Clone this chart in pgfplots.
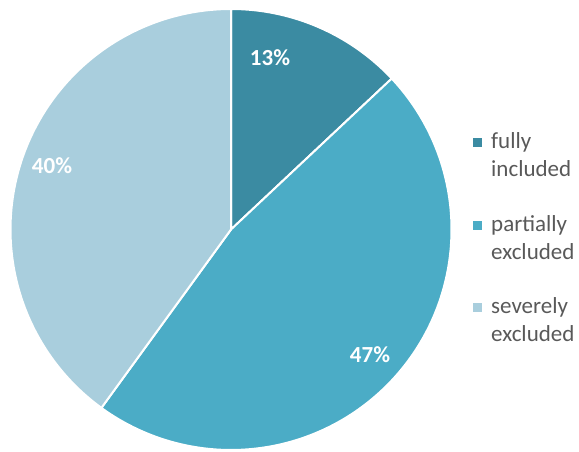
\documentclass[border=0pt]{standalone}
\usepackage{fontspec}
\setmainfont{Carlito}
\usepackage{pgfplots}
\pgfplotsset{compat=1.18}
\definecolor{cFull}{HTML}{3B8BA2}
\definecolor{cPart}{HTML}{4BACC6}
\definecolor{cSev}{HTML}{A9CEDD}
\definecolor{txt}{HTML}{595959}
\begin{document}
\begin{tikzpicture}
\def\cx{231}\def\cy{222.5}\def\r{220.5}
% slice values (percent)
\def\vA{13}\def\vB{47}\def\vC{40}
\pgfmathsetmacro\aA{90}
\pgfmathsetmacro\aB{90-3.6*\vA}
\pgfmathsetmacro\aC{\aB-3.6*\vB}
\pgfmathsetmacro\aD{\aC-3.6*\vC}
\begin{axis}[width=579pt,height=452pt,scale only axis,xmin=0,xmax=579,ymin=0,ymax=452,hide axis,clip=false]
\addplot[draw=none] coordinates {(0,0) (579,452)};
\addplot[fill=cFull,draw=white,line width=2pt,line join=round,domain=\aB:\aA,samples=80,variable=\t] ({\cx+\r*cos(\t)},{\cy+\r*sin(\t)}) -- (axis cs:\cx,\cy) -- cycle;
\addplot[fill=cPart,draw=white,line width=2pt,line join=round,domain=\aC:\aB,samples=160,variable=\t] ({\cx+\r*cos(\t)},{\cy+\r*sin(\t)}) -- (axis cs:\cx,\cy) -- cycle;
\addplot[fill=cSev,draw=white,line width=2pt,line join=round,domain=\aD:\aC,samples=140,variable=\t] ({\cx+\r*cos(\t)},{\cy+\r*sin(\t)}) -- (axis cs:\cx,\cy) -- cycle;
\node[font=\bfseries\fontsize{23}{27}\selectfont,text=white] at (axis cs:270,394) {13\%};
\node[font=\bfseries\fontsize{23}{27}\selectfont,text=white] at (axis cs:52,286) {40\%};
\node[font=\bfseries\fontsize{23}{27}\selectfont,text=white] at (axis cs:370,97) {47\%};
% legend
\fill[cFull] (axis cs:473,304.5) rectangle (axis cs:482,313.5);
\fill[cPart] (axis cs:473,221.5) rectangle (axis cs:482,230.5);
\fill[cSev] (axis cs:473,139.5) rectangle (axis cs:482,148.5);
\tikzset{lg/.style={anchor=base west,inner sep=0pt,text=txt,font=\fontsize{23}{27}\selectfont}}
\node[lg] at (axis cs:491,303.5) {fully};
\node[lg] at (axis cs:491,275.5) {included};
\node[lg] at (axis cs:491,220.5) {partially};
\node[lg] at (axis cs:491,192.5) {excluded};
\node[lg] at (axis cs:491,138.5) {severely};
\node[lg] at (axis cs:491,110.5) {excluded};
\end{axis}
\pgfresetboundingbox
\path (0,0) rectangle (579pt,452pt);
\end{tikzpicture}
\end{document}
